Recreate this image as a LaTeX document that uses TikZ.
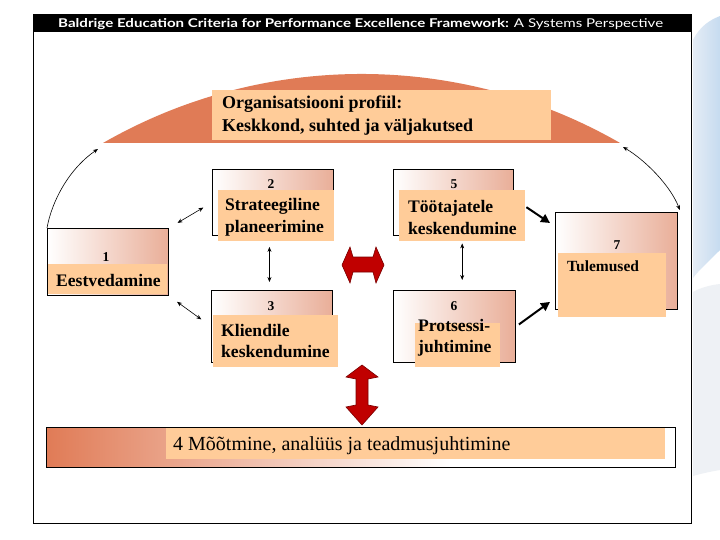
\documentclass[tikz,border=0pt]{standalone}
\usepackage{fontspec}
\setmainfont{Liberation Serif}
\newfontfamily\titlefont{Lato}
\usetikzlibrary{arrows.meta,calc}
\definecolor{domecol}{HTML}{E07B56}
\definecolor{peach}{HTML}{FFCC99}
\definecolor{salmon}{HTML}{E9AE98}
\definecolor{redarrow}{HTML}{C00000}
\definecolor{redline}{HTML}{7A0000}
\definecolor{skyblue}{HTML}{C6DBF0}
\definecolor{skylight}{HTML}{E4ECF5}
\definecolor{greylight}{HTML}{EEF1F5}
\tikzset{
  outerbox/.style={draw=black, line width=0.9pt, left color=white, right color=salmon, anchor=north west, inner sep=0pt},
  labelbox/.style={fill=peach, anchor=north west, inner sep=0pt},
  boxtext/.style={inner sep=0pt, align=left, font=\fontsize{17.6}{21.5}\selectfont\bfseries},
  numtext/.style={inner sep=0pt, font=\fontsize{13.5}{13.5}\selectfont\bfseries},
  thinarrow/.style={line width=0.6pt, {Stealth[length=5pt,width=4pt]}-{Stealth[length=5pt,width=4pt]}},
  thickarrow/.style={line width=2pt, -{Triangle[length=9pt,width=9pt]}},
  redblock/.style={fill=redarrow, draw=redline, line width=0.6pt, line join=miter}
}
\begin{document}
\begin{tikzpicture}[x=1pt,y=-1pt]
\useasboundingbox (0,0) rectangle (720,540);
\fill[white] (0,0) rectangle (720,540);
% right-side decoration
\shade[left color=skylight, right color=skyblue] (693,40) .. controls (700,26) and (710,20) .. (720,16) -- (720,250) .. controls (708,262) and (699,270) .. (693,278) -- cycle;
\fill[greylight] (693,292) .. controls (700,288) and (710,285) .. (720,284) -- (720,470) .. controls (708,472) and (700,474) .. (693,476) -- cycle;
% frame and title
\draw[line width=1pt, fill=white] (33,15) rectangle (691,523);
\fill[black] (33,15) rectangle (691,32);
\node[anchor=west, inner sep=0pt, text=white] (title) at (58,24.5)
  {\resizebox{605pt}{9pt}{\titlefont\bfseries Baldrige Education Criteria for Performance Excellence Framework:\mdseries{} A Systems Perspective}};
% dome
\fill[domecol] (103,143) arc[start angle=240.1, end angle=299.9, radius=518.7] -- cycle;
\coordinate (arcL) at (98,149);
\coordinate (arcR) at (623,147);
% profile
\node[labelbox, minimum width=339pt, minimum height=50pt] (profile) at (212,90) {};
\node[inner sep=0pt, anchor=west, align=left, font=\fontsize{18}{23}\selectfont\bfseries] (profiletext) at (222,116)
  {Organisatsiooni profiil:\\Keskkond, suhted ja väljakutsed};
% boxes
\node[outerbox, minimum width=121pt, minimum height=67pt] (b1) at (47,228) {};
\node[labelbox, minimum width=119pt, minimum height=30pt] (l1) at (48,264) {};
\node[numtext] (n1) at (106,257) {1};
\node[boxtext] (t1) at (108.5,280) {Eestvedamine};

\node[outerbox, minimum width=121pt, minimum height=66pt] (b2) at (212,169) {};
\node[labelbox, minimum width=116pt, minimum height=51pt] (l2) at (218,190) {};
\node[numtext] (n2) at (271,184) {2};
\node[boxtext, anchor=west] (t2) at (225,217.5) {Strateegiline\\planeerimine};

\node[outerbox, minimum width=120pt, minimum height=66pt] (b5) at (393,169) {};
\node[labelbox, minimum width=126pt, minimum height=51pt] (l5) at (399,190) {};
\node[numtext] (n5) at (454,184) {5};
\node[boxtext, anchor=west] (t5) at (408,217.5) {Töötajatele\\keskendumine};

\node[outerbox, minimum width=121pt, minimum height=72pt] (b3) at (211,290) {};
\node[labelbox, minimum width=125pt, minimum height=52pt] (l3) at (213,315) {};
\node[numtext] (n3) at (271,306) {3};
\node[boxtext, anchor=west] (t3) at (221,341) {Kliendile\\keskendumine};

\node[outerbox, minimum width=122pt, minimum height=72pt] (b6) at (393,290) {};
\node[labelbox, minimum width=85pt, minimum height=44pt] (l6) at (415,323) {};
\node[numtext] (n6) at (454,306) {6};
\node[boxtext, anchor=west] (t6) at (418,338) {Protsessi-\\juhtimine};

\node[outerbox, minimum width=122pt, minimum height=97pt] (b7) at (555,212) {};
\node[labelbox, minimum width=108pt, minimum height=64pt] (l7) at (558,253) {};
\node[numtext] (n7) at (617,245) {7};
\node[inner sep=0pt, anchor=west, font=\fontsize{15.5}{18}\selectfont\bfseries] (t7) at (567,266) {Tulemused};

% bottom bar
\shade[left color=domecol, right color=white] (46,427) rectangle (450,467);
\node[draw=black, line width=0.9pt, anchor=north west, inner sep=0pt, minimum width=629pt, minimum height=40pt] (bar) at (46,427) {};
\node[labelbox, minimum width=499pt, minimum height=31pt] (barlabel) at (166,428) {};
\node[inner sep=0pt, anchor=west, font=\fontsize{20}{24}\selectfont] (t4) at (173,446) {4 Mõõtmine, analüüs ja teadmusjuhtimine};

% connectors
\draw[line width=0.6pt, -{Stealth[length=5pt,width=4pt]}] (b1.north west) .. controls (52,200) and (70,168) .. (arcL);
\draw[thinarrow] (arcR) .. controls (645,160) and (670,185) .. ([xshift=2pt,yshift=2pt]b7.north east);
\draw[thinarrow, shorten <=10pt, shorten >=10pt] (b1.north east) -- (b2.west);
\draw[thinarrow, shorten <=10pt, shorten >=12pt] (b1.south east) -- (b3.west);
\draw[thinarrow, shorten <=11pt, shorten >=8pt] ([xshift=-3.5pt]b2.south) -- ([xshift=-2.5pt]b3.north);
\draw[thinarrow, shorten <=2pt, shorten >=10pt] (l5.south) -- (l5.south |- b6.north);
\draw[thickarrow] ([xshift=1pt,yshift=8.5pt]l5.east) -- ([xshift=-5pt,yshift=-11pt]b7.north west);
\draw[thickarrow] ([xshift=3pt,yshift=2pt]b6.east) -- ([xshift=-5pt,yshift=8pt]b7.south west);

% red block arrows
\draw[redblock] (342,265) -- (350,247) -- (353,257) -- (373,257) -- (376,247) -- (384,265) -- (376,283) -- (373,272) -- (353,272) -- (350,283) -- cycle;
\draw[redblock] (362,365) -- (378,377) -- (368,379) -- (368,405) -- (378,407) -- (362,425) -- (346,407) -- (356,405) -- (356,379) -- (346,377) -- cycle;
\end{tikzpicture}
\end{document}
